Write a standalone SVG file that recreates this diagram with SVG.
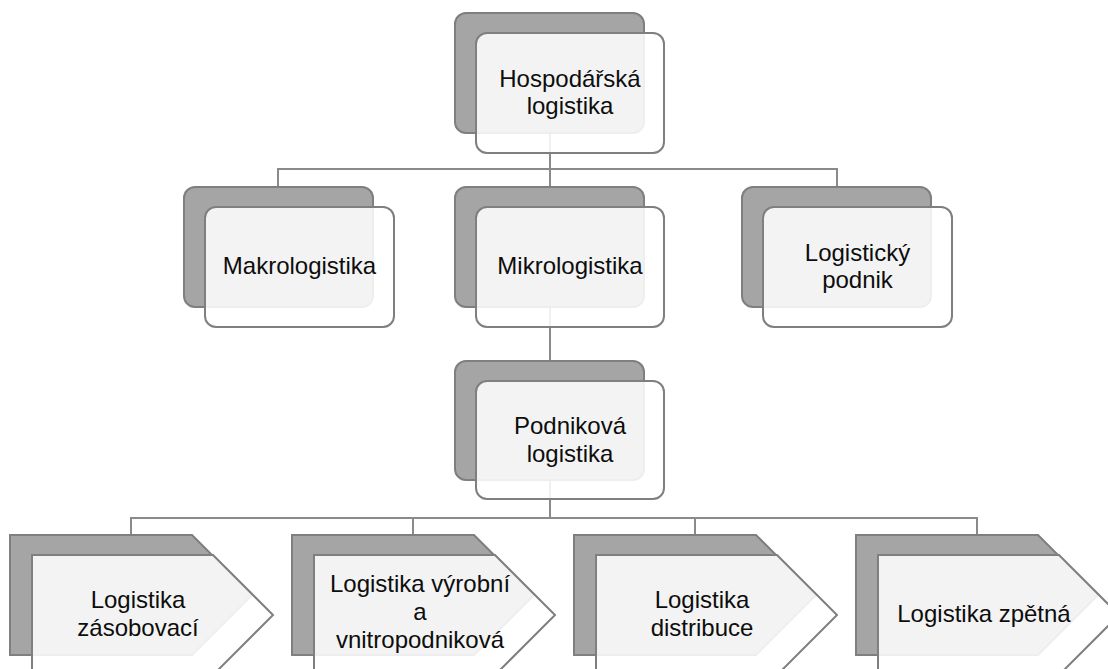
<svg xmlns="http://www.w3.org/2000/svg" width="1108" height="669" viewBox="0 0 1108 669">
<style>
.back{fill:#a5a5a5;stroke:#7f7f7f;stroke-width:2}
.front{fill:#ffffff;fill-opacity:0.87;stroke:#7f7f7f;stroke-width:2}
.conn{fill:none;stroke:#8a8a8a;stroke-width:2}
text{font-family:"Liberation Sans",Arial,sans-serif;font-size:24px;fill:#0d0d0d;text-anchor:middle}
</style>
<rect width="1108" height="669" fill="#ffffff"/>
<g id="connectors">
<path class="conn" d="M550,133 V169 M278,187 V169 H837 V187 M550,169 V188"/>
<path class="conn" d="M550,307 V361"/>
<path class="conn" d="M550,480 V518 M131,535 V518 H977 V535 M413,518 V535 M695,518 V535"/>
</g>
<g id="hospodarska">
<rect class="back" x="455" y="13" width="189" height="120" rx="11"/>
<rect class="front" x="476" y="33" width="188" height="120" rx="11"/>
<text x="570" y="87">Hospodářská</text>
<text x="570" y="114">logistika</text>
</g>
<g id="makro">
<rect class="back" x="184" y="187" width="189" height="120" rx="11"/>
<rect class="front" x="205" y="207" width="189" height="120" rx="11"/>
<text x="299.5" y="274">Makrologistika</text>
</g>
<g id="mikro">
<rect class="back" x="455" y="187" width="189" height="120" rx="11"/>
<rect class="front" x="476" y="207" width="188" height="120" rx="11"/>
<text x="570" y="274">Mikrologistika</text>
</g>
<g id="podnik">
<rect class="back" x="742" y="187" width="189" height="120" rx="11"/>
<rect class="front" x="763" y="207" width="189" height="120" rx="11"/>
<text x="857.5" y="261">Logistický</text>
<text x="857.5" y="288">podnik</text>
</g>
<g id="podnikova">
<rect class="back" x="455" y="361" width="189" height="119" rx="11"/>
<rect class="front" x="476" y="381" width="188" height="118" rx="11"/>
<text x="570" y="434">Podniková</text>
<text x="570" y="462">logistika</text>
</g>
<g id="zasobovaci">
<path class="back" d="M10,535 H192 L252,595 L192,655 H10 Z"/>
<path class="front" d="M32,555 H213 L273,615 L213,675 H32 Z"/>
<text x="138" y="608">Logistika</text>
<text x="138" y="636">zásobovací</text>
</g>
<g id="vyrobni">
<path class="back" d="M292,535 H474 L534,595 L474,655 H292 Z"/>
<path class="front" d="M314,555 H495 L555,615 L495,675 H314 Z"/>
<text x="420" y="592">Logistika výrobní</text>
<text x="420" y="620">a</text>
<text x="420" y="648">vnitropodniková</text>
</g>
<g id="distribuce">
<path class="back" d="M574,535 H756 L816,595 L756,655 H574 Z"/>
<path class="front" d="M596,555 H777 L837,615 L777,675 H596 Z"/>
<text x="702" y="608">Logistika</text>
<text x="702" y="636">distribuce</text>
</g>
<g id="zpetna">
<path class="back" d="M856,535 H1038 L1098,595 L1038,655 H856 Z"/>
<path class="front" d="M878,555 H1059 L1119,615 L1059,675 H878 Z"/>
<text x="984" y="622">Logistika zpětná</text>
</g>
</svg>
